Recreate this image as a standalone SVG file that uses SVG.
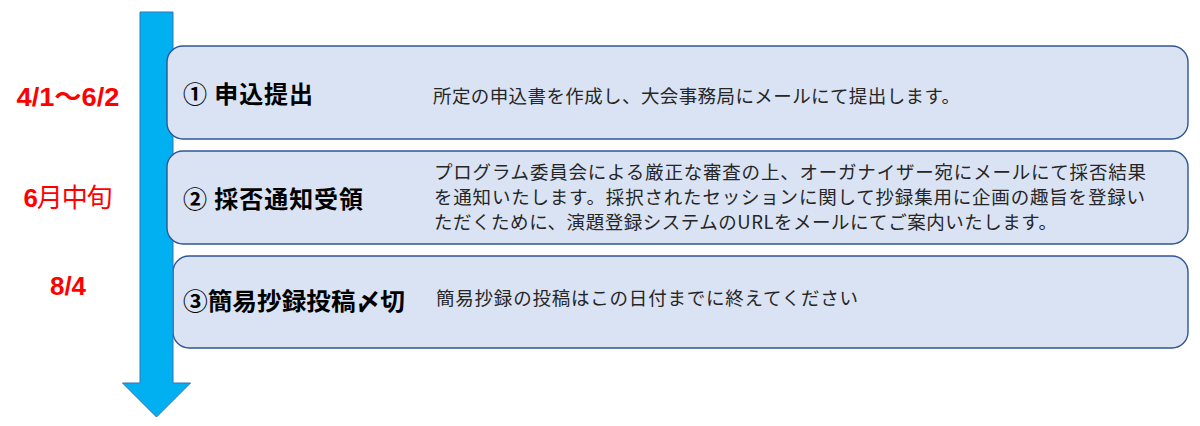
<svg xmlns="http://www.w3.org/2000/svg" width="1200" height="426" viewBox="0 0 1200 426">
<style>
.box{fill:#DAE3F3;stroke:#2F5597;stroke-width:1.4}
.date{font-family:"Liberation Sans","Noto Sans CJK JP",sans-serif;font-weight:bold;font-size:26px;fill:#FF0000;text-anchor:middle}
.title{font-family:"Noto Sans CJK JP",sans-serif;font-weight:bold;font-size:24px;fill:#000}
.desc{font-family:"Noto Sans CJK JP",sans-serif;font-size:18.5px;fill:#262626}
</style>
<rect width="1200" height="426" fill="#fff"/>
<g id="node3">
<rect class="box" x="173" y="256" width="1015" height="92" rx="16"/>
<text class="title" x="183" y="310" textLength="222" lengthAdjust="spacingAndGlyphs">③簡易抄録投稿〆切</text>
<text class="desc" x="436" y="305" textLength="422" lengthAdjust="spacing">簡易抄録の投稿はこの日付までに終えてください</text>
</g>
<g id="connectors">
<path d="M140,12 H173 V383 H190.5 L156.5,417 L122.5,383 H140 Z" fill="#00B0F0" stroke="#2E75B6" stroke-width="1"/>
</g>
<g id="node1">
<rect class="box" x="167" y="46" width="1021" height="93" rx="16"/>
<text class="title" x="183" y="103" textLength="130" lengthAdjust="spacing">① 申込提出</text>
<text class="desc" x="433" y="103" textLength="527" lengthAdjust="spacing">所定の申込書を作成し、大会事務局にメールにて提出します。</text>
</g>
<g id="node2">
<rect class="box" x="167" y="151" width="1021" height="93" rx="16"/>
<text class="title" x="183" y="208" textLength="180" lengthAdjust="spacing">② 採否通知受領</text>
<text class="desc" x="434" y="179" textLength="712" lengthAdjust="spacing">プログラム委員会による厳正な審査の上、オーガナイザー宛にメールにて採否結果</text>
<text class="desc" x="434" y="204" textLength="711" lengthAdjust="spacing">を通知いたします。採択されたセッションに関して抄録集用に企画の趣旨を登録い</text>
<text class="desc" x="434" y="229" textLength="623" lengthAdjust="spacing">ただくために、演題登録システムのURLをメールにてご案内いたします。</text>
</g>
<g id="dates">
<text class="date" x="68" y="106" textLength="103" lengthAdjust="spacingAndGlyphs">4/1～6/2</text>
<text class="date" x="68" y="207" textLength="89" lengthAdjust="spacing">6<tspan font-weight="normal" font-family="Noto Sans CJK JP,sans-serif">月中旬</tspan></text>
<text class="date" x="68" y="295">8/4</text>
</g>
</svg>
